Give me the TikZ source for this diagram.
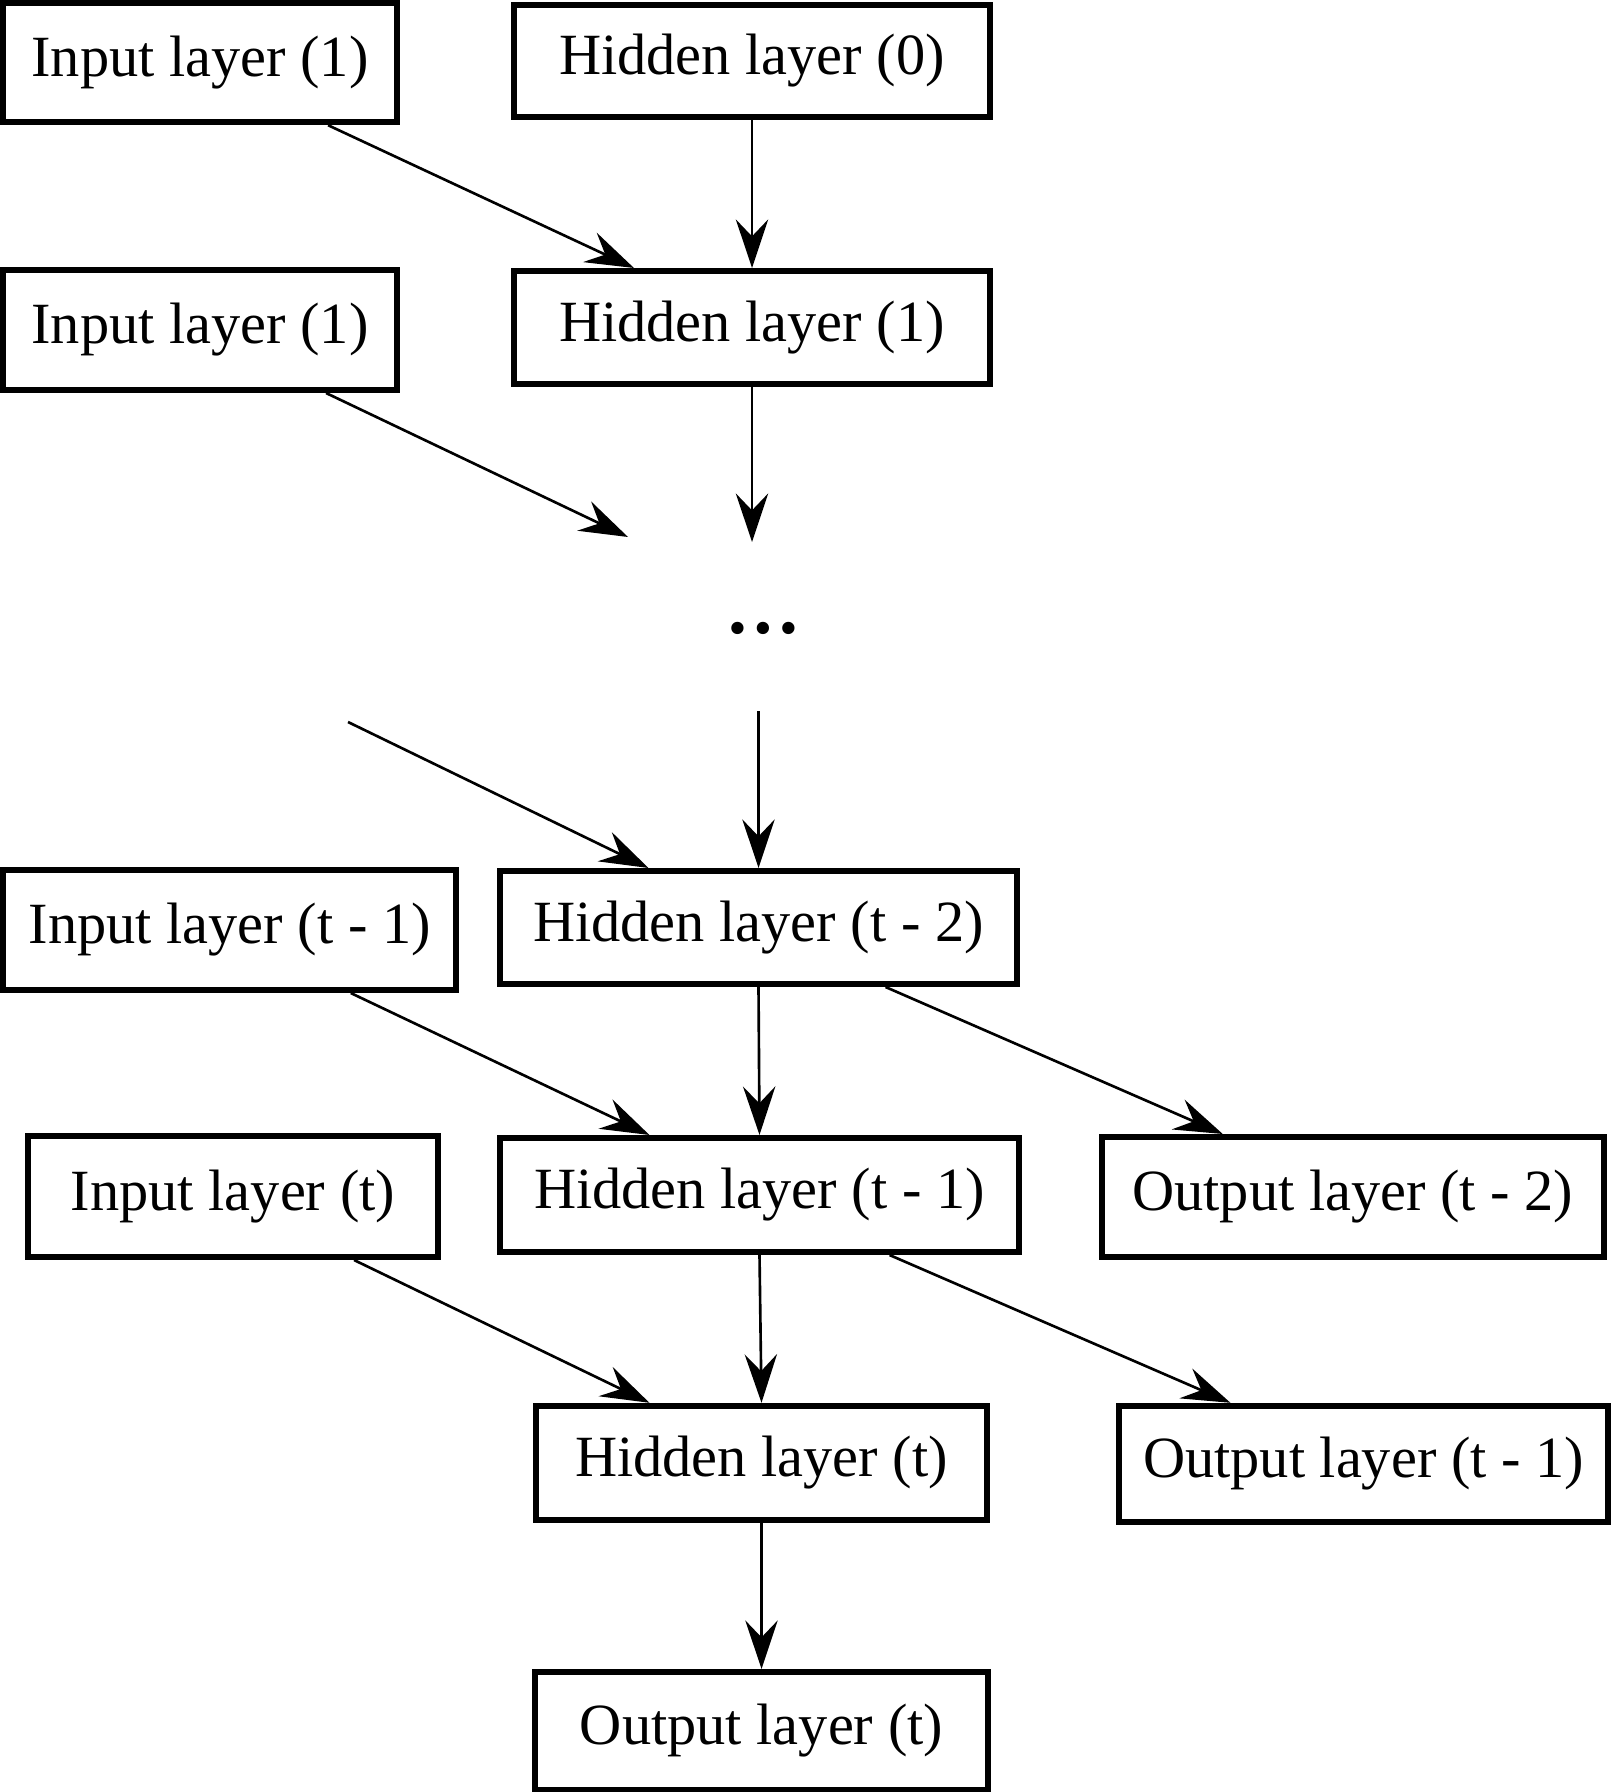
\documentclass[tikz,border=0pt]{standalone}
\usepackage{fontspec}
\setmainfont{Liberation Serif}
\usepackage{tikz}
\usetikzlibrary{calc,positioning,arrows.meta}

\begin{document}
\begin{tikzpicture}[x=0.01cm, y=-0.01cm, font=\fontsize{16.6pt}{19pt}\selectfont,
  arr/.style={line width=0.75pt, -{Stealth[length=13.8pt, width=9.2pt, inset=4.8pt]}}]
\tikzstyle{lyr}=[rectangle, draw, line width=1.7pt, inner sep=0pt]
\useasboundingbox (0,0) rectangle (1610,1792);
\node[lyr, minimum width=3.93cm, minimum height=1.19cm] (i1a) at (200,62.7){Input layer (1)};
\node[lyr, minimum width=4.76cm, minimum height=1.12cm] (h0) at (752,60.6){Hidden layer (0)};
\node[lyr, minimum width=3.93cm, minimum height=1.20cm] (i1b) at (200,330){Input layer (1)};
\node[lyr, minimum width=4.76cm, minimum height=1.13cm] (h1) at (752,327.5){Hidden layer (1)};
\node (dots) at (763,628){\fontsize{21.5pt}{24pt}\selectfont\textbf{\ldots}};
\coordinate (c1) at (628,537);
\coordinate (c2) at (752,542);
\coordinate (c3) at (348,722);
\coordinate (c4) at (758.5,711);
\node[lyr, minimum width=4.53cm, minimum height=1.20cm] (it1) at (229.7,930){Input layer (t - 1)};
\node[lyr, minimum width=5.17cm, minimum height=1.13cm] (ht2) at (758.5,927.5){Hidden layer (t - 2)};
\node[lyr, minimum width=4.09cm, minimum height=1.21cm] (it) at (233,1196.5){Input layer (t)};
\node[lyr, minimum width=5.19cm, minimum height=1.14cm] (ht1) at (759.5,1195){Hidden layer (t - 1)};
\node[lyr, minimum width=5.02cm, minimum height=1.20cm] (ot2) at (1352.8,1197){Output layer (t - 2)};
\node[lyr, minimum width=4.51cm, minimum height=1.14cm] (ht) at (761.5,1462.8){Hidden layer (t)};
\node[lyr, minimum width=4.89cm, minimum height=1.16cm] (ot1) at (1363.5,1463.8){Output layer (t - 1)};
\node[lyr, minimum width=4.53cm, minimum height=1.18cm] (ot) at (761.5,1731){Output layer (t)};
% diagonal connections
\foreach \s/\t/\a/\b in {i1a/h1/1.28/-1.18, it1/ht1/1.21/-1.10, it/ht/1.21/-1.12, ht2/ot2/1.27/-1.30, ht1/ot1/1.30/-1.33}{
\draw[arr] ([xshift=\a cm]\s.south) -- ([xshift=\b cm]\t.north);
}
\draw[arr] ([xshift=1.26cm]i1b.south) -- (c1);
\draw[arr] (c3) -- ([xshift=-1.10cm]ht2.north);
% vertical connections
\foreach \s/\t in {h0/h1, ht2/ht1, ht1/ht, ht/ot}{
\draw[arr] (\s.south) -- (\t.north);
}
\draw[arr] (h1.south) -- (c2);
\draw[arr] (c4) -- (ht2.north);
\end{tikzpicture}
\end{document}
